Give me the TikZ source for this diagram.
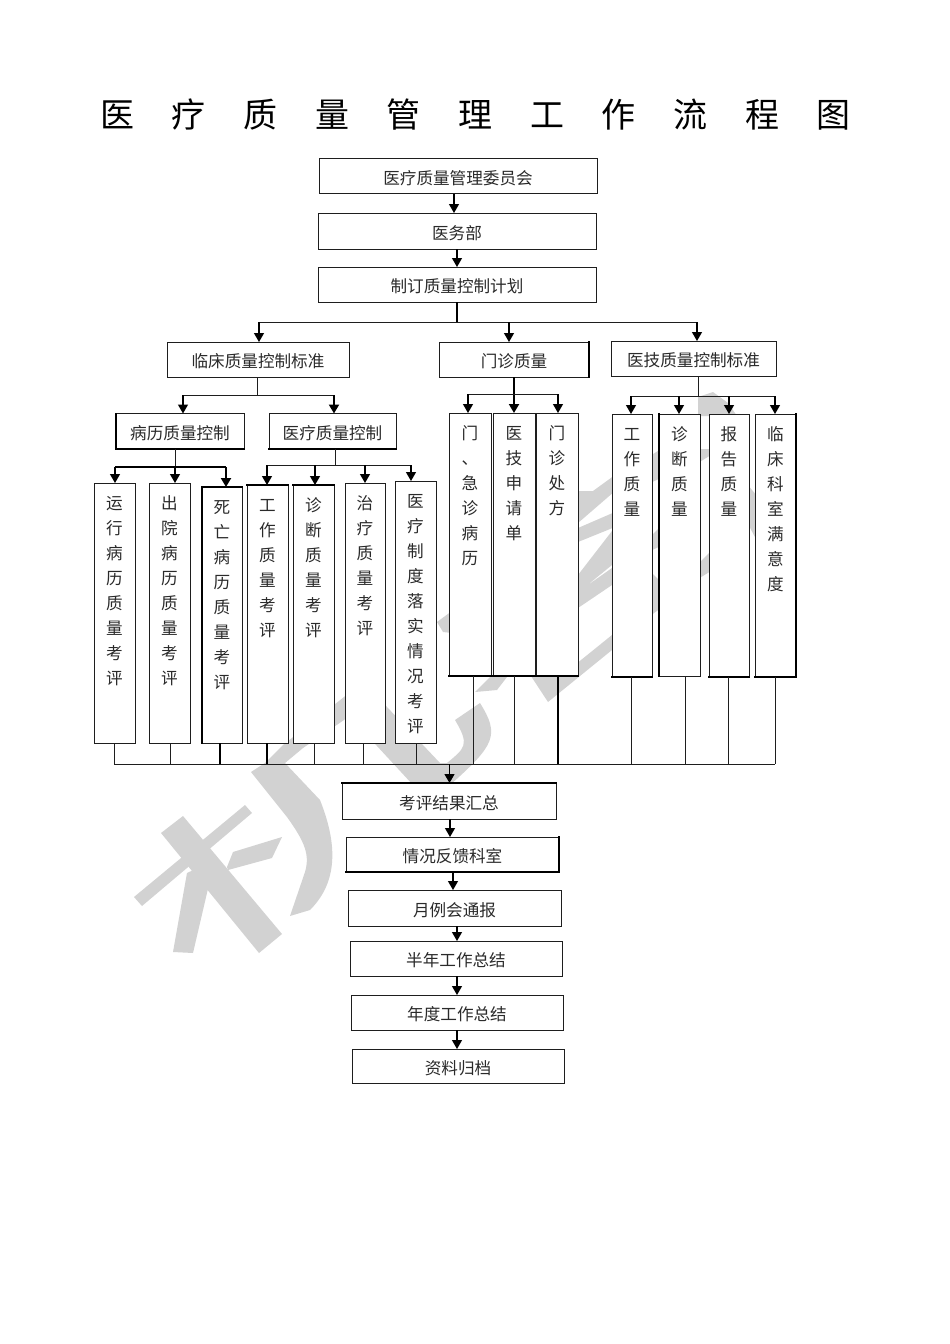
\documentclass[tikz,border=0pt]{standalone}
\usepackage{fontspec}
\setmainfont{Noto Sans CJK SC}
\usetikzlibrary{arrows.meta}
\definecolor{wm}{HTML}{D2D2D2}
\definecolor{ln}{HTML}{1E1E1E}
\definecolor{tx}{HTML}{2A2A2A}
\tikzset{
  hbox/.style={draw=ln,fill=white,line width=1pt,inner sep=0pt,outer sep=0pt,text=tx,
    font=\fontsize{16.6}{20}\selectfont,text height=16.6pt,text depth=0pt},
  tbox/.style={draw=ln,fill=white,line width=1pt,inner sep=0pt,outer sep=0pt,text=tx},
  wire/.style={draw=ln,line width=1pt},
  hwire/.style={draw=black,line width=2pt},
  arr/.style={draw=black,line width=1.2pt,-{Triangle[length=9pt,width=10pt]}},
  harr/.style={draw=black,line width=2pt,-{Triangle[length=9pt,width=10pt]}},
  hedge/.style={draw=black,line width=2pt,line cap=rect},
  wmark/.style={fill=wm,draw=none}
}
\newcommand{\boxnode}[6]{%
  \pgfmathsetmacro\bw{#4-#2}\pgfmathsetmacro\bh{#5-#3}%
  \node[hbox,minimum width=\bw pt,minimum height=\bh pt] (#1) at ({(#2+#4)/2},{(#3+#5)/2}) {#6};}
\newcommand{\tallnode}[6]{%
  \pgfmathsetmacro\bw{#4-#2}\pgfmathsetmacro\bh{#5-#3}%
  \node[tbox,minimum width=\bw pt,minimum height=\bh pt] (#1) at ({(#2+#4)/2},{(#3+#5)/2})
   {\parbox[c][\bh pt][t]{30pt}{\fontsize{16.6}{25}\selectfont\centering\vspace*{12pt}\rule{0pt}{14pt}#6}};}
\newcommand{\tch}[1]{\makebox[71.7pt][c]{#1}}
\begin{document}
\begin{tikzpicture}[x=1pt,y=-1pt]
\useasboundingbox (0,0) rectangle (950,1344);
\fill[white] (0,0) rectangle (950,1344);
% watermark
\fill[wmark] (134,897) -- (142,906) -- (252,813) -- (245,805) -- cycle;
\fill[wmark] (161,833) -- (183,816) -- (282,934) -- (259,953) -- cycle;
\fill[wmark] (187,873) -- (173,952) -- (193,953) -- (207,893) -- (215,860) -- cycle;
\fill[wmark] (227,867) -- (233,852) -- (282,837) -- (272,858) -- (228,870) -- cycle;
\fill[wmark] (251,772) -- (287,817) .. controls (305,842) and (310,855) .. (305,872) -- (290,916) -- (310,910) .. controls (335,885) and (340,850) .. (320,800) -- (285,763) -- (303,748) -- (344,720) -- (380,690) -- (380,665) -- (344,697) -- (283,745) -- (265,763) -- cycle;
\fill[wmark] (380,699) -- (387,707) -- (440,763) -- (447,763) .. controls (465,748) and (470,745) .. (455,720) -- (480,703) .. controls (500,735) and (495,745) .. (450,785) -- (413,785) -- (365,733) -- cycle;
\fill[wmark] (475,692) -- (497,690) -- (507,677) -- (490,677) -- cycle;
\fill[wmark] (527,670) -- (548,702) -- (612,650) -- (612,635) -- (560,677) -- cycle;
\fill[wmark] (578,491) -- (593,491) -- (615,475) -- (615,491) -- (578,523) -- cycle;
\fill[wmark] (578,528) -- (615,512) -- (615,527) -- (578,542) -- cycle;
\fill[wmark] (578,575) -- (612,531) -- (612,565) -- (585,587) -- (612,568) -- (612,585) -- (578,608) -- cycle;
\fill[wmark] (437,622) -- (452,611) -- (452,633) -- (443,632) -- cycle;
\fill[wmark] (650,456) -- (661,449) -- (661,478) -- (650,483) -- cycle;
\fill[wmark] (650,537) -- (661,526) -- (661,546) -- (650,551) -- cycle;
\fill[wmark] (650,571) -- (661,582) -- (661,608) -- (650,616) -- cycle;
\fill[wmark] (698,449) -- (711,449) -- (711,455) -- (698,463) -- cycle;
\fill[wmark] (698,564) -- (711,551) -- (711,571) -- (698,579) -- cycle;
\fill[wmark] (747,484) -- (757,496) -- (757,541) -- (747,522) -- cycle;
\fill[wmark] (698,397) -- (713,392) -- (728,403) -- (737,416) -- (698,416) -- cycle;
% title
\node[text=black,font=\fontsize{34}{36}\selectfont,inner sep=0pt] (title) at (475.5,115)
  {\tch{医}\tch{疗}\tch{质}\tch{量}\tch{管}\tch{理}\tch{工}\tch{作}\tch{流}\tch{程}\tch{图}};
% top boxes
\boxnode{a}{319}{158.5}{597}{193.5}{医疗质量管理委员会}
\boxnode{b}{318}{213}{596}{249}{医务部}
\boxnode{c}{318}{267}{596}{302}{制订质量控制计划}
\boxnode{l}{167}{342}{349}{377}{临床质量控制标准}
\boxnode{m}{439}{342}{589}{377}{门诊质量}
\boxnode{t}{611}{341}{776}{376}{医技质量控制标准}
\boxnode{ll}{116}{413.5}{244}{449}{病历质量控制}
\boxnode{lr}{269}{413.5}{396}{449}{医疗质量控制}
% tall boxes
\tallnode{v1}{94}{483}{135}{743}{运\\行\\病\\历\\质\\量\\考\\评}
\tallnode{v2}{149}{483}{190}{743}{出\\院\\病\\历\\质\\量\\考\\评}
\tallnode{v3}{202}{487}{242}{743}{死\\亡\\病\\历\\质\\量\\考\\评}
\tallnode{v4}{247}{485}{288}{743}{工\\作\\质\\量\\考\\评}
\tallnode{v5}{293}{485}{334}{743}{诊\\断\\质\\量\\考\\评}
\tallnode{v6}{345}{483}{385}{743}{治\\疗\\质\\量\\考\\评}
\tallnode{v7}{395}{481}{436}{743}{医\\疗\\制\\度\\落\\实\\情\\况\\考\\评}
\tallnode{m1}{449}{413}{491}{676}{门\\、\\急\\诊\\病\\历}
\tallnode{m2}{493}{413}{535}{676}{医\\技\\申\\请\\单}
\tallnode{m3}{536}{413}{578}{676}{门\\诊\\处\\方}
\tallnode{t1}{612}{414}{652}{677}{工\\作\\质\\量}
\tallnode{t2}{659}{414}{700}{676}{诊\\断\\质\\量}
\tallnode{t3}{709}{414}{749}{677}{报\\告\\质\\量}
\tallnode{t4}{755}{414}{796}{677}{临\\床\\科\\室\\满\\意\\度}
% lower boxes
\boxnode{s1}{342}{783}{556}{819}{考评结果汇总}
\boxnode{s2}{346}{837}{559}{872}{情况反馈科室}
\boxnode{s3}{348}{890}{561}{926}{月例会通报}
\boxnode{s4}{350}{941}{562}{976}{半年工作总结}
\boxnode{s5}{351}{995}{563}{1030}{年度工作总结}
\boxnode{s6}{352}{1049}{564}{1083}{资料归档}
% heavier edges
\draw[hedge] (ll.north west) -- (ll.south west) -- (ll.south east);
\draw[hedge] (lr.south west) -- (lr.south east);
\draw[hedge] (m.north east) -- (m.south east);
\draw[hedge] (v3.south west) -- (v3.north west) -- (v3.north east);
\draw[hedge] (v4.north west) -- (v4.north east);
\draw[hedge] (v5.north west) -- (v5.north east);
\draw[hedge] (m1.south west) -- (m1.south east);
\draw[hedge] (m2.south west) -- (m2.south east);
\draw[hedge] (m3.south west) -- (m3.south east);
\draw[hedge] (t1.south west) -- (t1.south east);
\draw[hedge] (t2.north west) -- (t2.south west);
\draw[hedge] (t3.south west) -- (t3.south east);
\draw[hedge] (t4.north east) -- (t4.south east) -- (t4.south west);
\draw[hedge] (s1.north west) -- (s1.north east);
\draw[hedge] (s2.north east) -- (s2.south east) -- (s2.south west);
% spine arrows
\draw[arr] (a.south -| 454,0) -- (b.north -| 454,0);
\draw[arr] (b.south -| 457,0) -- (c.north -| 457,0);
% level two
\coordinate (busA) at (457,322);
\draw[hwire] (c.south -| busA) -- (busA);
\draw[wire] (busA -| 259,0) -- (busA -| 697,0);
\draw[arr] (busA -| 259,0) -- (l.north -| 259,0);
\draw[arr] (busA -| 509,0) -- (m.north -| 509,0);
\draw[arr] (busA -| 697,0) -- (t.north -| 697,0);
% clinical
\coordinate (busL) at (257.5,395);
\draw[wire] (l.south -| busL) -- (busL);
\draw[wire] (busL -| 183,0) -- (busL -| 334,0);
\draw[arr] (busL -| 183,0) -- (ll.north -| 183,0);
\draw[harr] (busL -| 334,0) -- (lr.north -| 334,0);
% record control
\coordinate (busLL) at (175,467);
\draw[wire] (ll.south -| busLL) -- (busLL);
\draw[hwire] (busLL -| 115,0) -- (busLL -| 226,0);
\draw[arr] (busLL -| 115,0) -- (v1.north -| 115,0);
\draw[arr] (busLL) -- (v2.north -| busLL);
\draw[harr] (busLL -| 226,0) -- (v3.north -| 226,0);
% quality control
\coordinate (busLR) at (335,465);
\draw[wire] (lr.south -| busLR) -- (busLR);
\draw[wire] (busLR -| 267,0) -- (busLR -| 411,0);
\draw[arr] (busLR -| 267,0) -- (v4.north -| 267,0);
\draw[arr] (busLR -| 315,0) -- (v5.north -| 315,0);
\draw[arr] (busLR -| 365,0) -- (v6.north -| 365,0);
\draw[arr] (busLR -| 411,0) -- (v7.north -| 411,0);
% outpatient
\coordinate (busM) at (514,394);
\draw[harr] (m.south -| busM) -- (m2.north -| busM);
\draw[wire] (busM -| 468,0) -- (busM -| 558,0);
\draw[arr] (busM -| 468,0) -- (m1.north -| 468,0);
\draw[arr] (busM -| 558,0) -- (m3.north -| 558,0);
% technical
\coordinate (busT) at (698,396);
\draw[wire] (t.south -| busT) -- (busT);
\draw[wire] (busT -| 631,0) -- (busT -| 775,0);
\draw[arr] (busT -| 631,0) -- (t1.north -| 631,0);
\draw[arr] (busT -| 679,0) -- (t2.north -| 679,0);
\draw[arr] (busT -| 729,0) -- (t3.north -| 729,0);
\draw[arr] (busT -| 775,0) -- (t4.north -| 775,0);
% collector
\coordinate (busB) at (449.5,764);
\draw[wire] (busB -| 114,0) -- (busB -| 775,0);
\draw[wire] (v1.south -| 114,0) -- (busB -| 114,0);
\draw[wire] (v2.south -| 170,0) -- (busB -| 170,0);
\draw[hwire] (v3.south -| 220,0) -- (busB -| 220,0);
\draw[hwire] (v4.south -| 267,0) -- (busB -| 267,0);
\draw[wire] (v5.south -| 314,0) -- (busB -| 314,0);
\draw[wire] (v6.south -| 363,0) -- (busB -| 363,0);
\draw[wire] (v7.south -| 416,0) -- (busB -| 416,0);
\draw[wire] (m1.south -| 473,0) -- (busB -| 473,0);
\draw[wire] (m2.south -| 514,0) -- (busB -| 514,0);
\draw[hwire] (m3.south -| 558,0) -- (busB -| 558,0);
\draw[wire] (t1.south -| 631,0) -- (busB -| 631,0);
\draw[wire] (t2.south -| 685,0) -- (busB -| 685,0);
\draw[wire] (t3.south -| 728,0) -- (busB -| 728,0);
\draw[wire] (t4.south -| 775,0) -- (busB -| 775,0);
\draw[arr] (busB) -- (s1.north -| busB);
% lower chain
\draw[arr] (s1.south -| 450,0) -- (s2.north -| 450,0);
\draw[arr] (s2.south -| 453,0) -- (s3.north -| 453,0);
\draw[arr] (s3.south -| 457,0) -- (s4.north -| 457,0);
\draw[arr] (s4.south -| 457,0) -- (s5.north -| 457,0);
\draw[arr] (s5.south -| 457,0) -- (s6.north -| 457,0);
\end{tikzpicture}
\end{document}
